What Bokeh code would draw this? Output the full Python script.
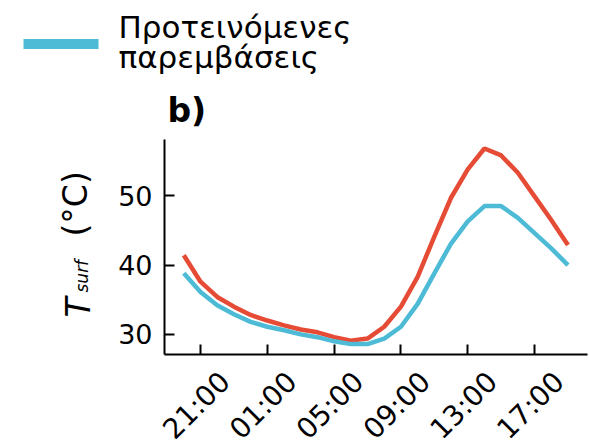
import numpy as np
from bokeh.plotting import figure
from bokeh.layouts import column, row
from bokeh.models import Label, BoxAnnotation, FixedTicker, Range1d, ColumnDataSource
from bokeh.core.properties import value
from bokeh.embed import file_html
from bokeh.resources import INLINE

# ---- data ----
hours = ["20:00", "21:00", "22:00", "23:00", "00:00", "01:00", "02:00", "03:00",
         "04:00", "05:00", "06:00", "07:00", "08:00", "09:00", "10:00", "11:00",
         "12:00", "13:00", "14:00", "15:00", "16:00", "17:00", "18:00", "19:00"]
current = [41.4, 37.6, 35.4, 34.0, 32.8, 32.0, 31.3, 30.7, 30.3, 29.6, 29.1, 29.4,
           31.1, 34.0, 38.3, 44.1, 49.7, 53.8, 56.8, 55.8, 53.3, 49.9, 46.5, 42.9]
proposed = [38.8, 36.1, 34.2, 32.9, 31.8, 31.1, 30.6, 30.0, 29.6, 29.0, 28.6, 28.6,
            29.4, 31.1, 34.4, 38.8, 43.1, 46.3, 48.5, 48.5, 46.8, 44.6, 42.4, 40.0]
x_tick_labels = ["21:00", "01:00", "05:00", "09:00", "13:00", "17:00"]
y_ticks = [30, 40, 50]
legend_label = ["Προτεινόμενες", "παρεμβάσεις"]
panel_label = "b)"

RED = "#E64B35"
BLUE = "#4DBBD5"
FONT = "DejaVu Sans"

# ---- layout (canvas px) ----
W, H = 589, 447
TOP_H = 139          # strip above the plot frame
LEFT_W = 110         # strip holding the y-axis title
FL, FR, FB = 164, 587, 354   # frame left, right, bottom
B = 12               # bottom border of main figure
ROW_H = FB + B - TOP_H
BOT_H = H - TOP_H - ROW_H
DROP = 0.32          # Label baseline correction (fraction of font size)

XR = (-1.156, 24.17)
YR = (27.1, 58.1)


def blank(w, h, xr, yr):
    f = figure(width=w, height=h, output_backend="svg", toolbar_location=None,
               x_range=xr, y_range=yr, min_border=0,
               x_axis_location=None, y_axis_location=None)
    f.outline_line_color = None
    f.grid.visible = False
    f.background_fill_color = "white"
    f.border_fill_color = "white"
    return f


# ---- main plot ----
x = list(range(len(hours)))
x_ticks = [hours.index(t) for t in x_tick_labels]
x_range = Range1d(*XR)

p = figure(width=W - LEFT_W, height=ROW_H, output_backend="svg", toolbar_location=None,
           x_range=x_range, y_range=Range1d(*YR),
           min_border_left=FL - LEFT_W, min_border_right=W - FR,
           min_border_top=0, min_border_bottom=B)
p.outline_line_color = None
p.xgrid.visible = False
p.ygrid.visible = False
p.background_fill_color = "white"
p.border_fill_color = "white"

p.line(x, current, line_color=RED, line_width=4.5)
p.line(x, proposed, line_color=BLUE, line_width=4.5)

for ax in (p.xaxis[0], p.yaxis[0]):
    ax.axis_line_width = 2
    ax.axis_line_color = "black"
    ax.major_tick_line_width = 2
    ax.major_tick_line_color = "black"
    ax.major_tick_in = 10
    ax.major_tick_out = 0
    ax.minor_tick_line_color = None

p.yaxis.ticker = FixedTicker(ticks=y_ticks)
p.yaxis.major_label_text_font = FONT
p.yaxis.major_label_text_font_size = "27px"
p.yaxis.major_label_text_color = "black"
p.yaxis.major_label_standoff = 12

p.xaxis.ticker = FixedTicker(ticks=x_ticks)
p.xaxis.major_label_text_font_size = "0px"
p.xaxis.major_label_standoff = 0

# ---- bottom strip: rotated tick labels on the same x scale ----
scale = (XR[1] - XR[0]) / (FR - FL)
bot = blank(W, BOT_H, Range1d(XR[0] - FL * scale, XR[0] + (W - FL) * scale),
            Range1d(0, BOT_H))
tick_src = ColumnDataSource(dict(x=x_ticks, y=[H - 405] * len(x_ticks), t=x_tick_labels))
bot.text(x="x", y="y", text="t", source=tick_src, angle=np.pi / 4,
         text_align="center", text_baseline="middle", x_offset=-4,
         text_font=value(FONT), text_font_size=value("28px"), text_color="black")

# ---- left strip: y-axis title  T_surf (°C) ----
left = blank(LEFT_W, ROW_H, Range1d(0, LEFT_W), Range1d(0, ROW_H))


def ly(cy):
    return TOP_H + ROW_H - cy


# (text, anchor x, anchor y, font px, style)
for txt, bx, cy, size, style in [("T", 89, 329, 33, "italic"),
                                 ("surf", 87, 304, 17, "italic"),
                                 ("(°C)", 86, 248, 33, "normal")]:
    left.add_layout(Label(x=bx - DROP * size, y=ly(cy), x_units="screen", y_units="screen",
                          text=txt, angle=np.pi / 2, text_align="left",
                          text_baseline="alphabetic", text_font=FONT,
                          text_font_style=style, text_font_size=f"{size}px",
                          text_color="black"))

# ---- top strip: legend and panel label ----
top = blank(W, TOP_H, Range1d(0, W), Range1d(0, TOP_H))


def ty(cy, size):
    return TOP_H - (cy - DROP * size)


top.add_layout(BoxAnnotation(left=23, right=98, top=TOP_H - 38.5, bottom=TOP_H - 48.5,
                             left_units="screen", right_units="screen",
                             top_units="screen", bottom_units="screen",
                             fill_color=BLUE, fill_alpha=1, line_color=None))
top.add_layout(Label(x=118, y=ty(36, 31), x_units="screen", y_units="screen",
                     text=legend_label[0], text_align="left", text_baseline="alphabetic",
                     text_font=FONT, text_font_size="31px", text_color="black"))
top.add_layout(Label(x=118, y=ty(66.5, 31), x_units="screen", y_units="screen",
                     text=legend_label[1], text_align="left", text_baseline="alphabetic",
                     text_font=FONT, text_font_size="31px", text_color="black"))
top.add_layout(Label(x=167, y=ty(121, 33), x_units="screen", y_units="screen",
                     text=panel_label, text_align="left", text_baseline="alphabetic",
                     text_font=FONT, text_font_style="bold", text_font_size="33px",
                     text_color="black"))

layout = column(top, row(left, p), bot)
open("out.html", "w").write(file_html(layout, INLINE))
